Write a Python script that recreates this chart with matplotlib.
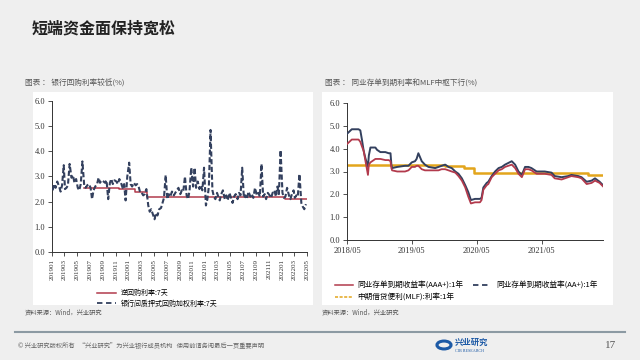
import numpy as np
import pandas as pd
import matplotlib
matplotlib.use("Agg")
import matplotlib.pyplot as plt
import matplotlib.dates as mdates
from matplotlib.lines import Line2D
from matplotlib.patches import Rectangle, Circle

plt.rcParams['font.family'] = ['Liberation Serif', 'Noto Sans CJK SC', 'DejaVu Sans']
CJK = ['Noto Sans CJK SC', 'DejaVu Sans']

# ---- left chart data: DR007 weekly readings (4 per month) ----
dr_months = pd.date_range('2019-01-01', '2022-04-01', freq='MS')
dr_days = [4, 11, 18, 26]
dr007 = [
    2.45, 2.70, 2.55, 2.80,  # 2019-01
    2.60, 2.40, 2.65, 3.45,
    2.50, 2.55, 2.65, 3.50,
    2.95, 3.05, 2.75, 2.90,
    2.55, 2.45, 2.70, 3.60,
    2.60, 2.55, 2.65, 2.70,
    2.55, 2.10, 2.45, 2.60,
    2.70, 2.95, 2.75, 2.85,
    2.80, 2.75, 2.85, 2.10,
    2.75, 2.90, 2.70, 2.85,
    2.80, 2.70, 2.90, 2.75,
    2.55, 2.70, 2.05, 3.00,
    3.55, 2.70, 2.60, 2.75,  # 2020-01
    2.65, 2.70, 2.60, 2.35,
    2.35, 2.25, 2.30, 2.50,
    1.85, 1.60, 1.70, 1.50,
    1.30, 1.55, 1.45, 1.70,
    1.75, 1.95, 2.15, 3.05,
    2.10, 2.30, 2.20, 2.40,
    2.25, 2.35, 2.45, 2.55,
    2.30, 2.45, 2.40, 3.00,
    2.25, 2.10, 2.45, 3.35,
    2.60, 3.35, 2.55, 2.80,
    2.50, 2.65, 2.45, 3.35,
    1.85, 2.10, 2.60, 4.85,  # 2021-01
    2.45, 2.20, 2.10, 2.35,
    2.20, 2.05, 2.30, 2.45,
    2.10, 2.25, 2.05, 2.35,
    2.15, 1.95, 2.20, 2.30,
    2.10, 2.35, 2.25, 3.35,
    2.15, 2.25, 2.10, 2.40,
    2.20, 2.30, 2.15, 2.55,
    2.25, 2.35, 2.20, 3.50,
    2.20, 2.30, 2.10, 2.35,
    2.25, 2.15, 2.35, 2.45,
    2.20, 2.60, 2.30, 4.05,
    2.35, 2.15, 2.20, 2.55,  # 2022-01
    2.25, 2.10, 2.30, 2.45,
    2.15, 2.25, 2.20, 3.10,
    1.95, 1.80, 1.70, 1.90,
]
dr_dates = [m + pd.Timedelta(days=d - 1) for m in dr_months for d in dr_days]

repo_dates = pd.to_datetime(['2019-06-01', '2019-11-18', '2020-02-03', '2020-03-30',
                             '2022-01-17', '2022-04-30'])
repo_rate = [2.55, 2.50, 2.40, 2.20, 2.10, 2.10]

# ---- right chart data: NCD 1Y yields and MLF ----
ncd_dates = pd.to_datetime([
    '2018-05-01', '2018-05-28', '2018-07-05', '2018-07-15', '2018-07-24', '2018-08-03',
    '2018-08-12', '2018-08-27', '2018-09-01', '2018-09-10', '2018-10-08', '2018-10-17',
    '2018-11-05', '2018-12-03', '2018-12-22', '2019-01-01', '2019-01-06', '2019-01-10',
    '2019-02-08', '2019-03-24', '2019-04-12', '2019-05-01', '2019-05-19', '2019-05-28',
    '2019-06-07', '2019-06-26', '2019-07-14', '2019-08-03', '2019-09-10', '2019-09-28',
    '2019-10-16', '2019-11-05', '2019-11-24', '2019-12-12', '2020-01-01', '2020-01-19',
    '2020-02-07', '2020-02-26', '2020-03-14', '2020-03-29', '2020-04-21', '2020-05-19',
    '2020-05-28', '2020-06-07', '2020-06-26', '2020-07-05', '2020-07-24', '2020-08-12',
    '2020-09-01', '2020-09-19', '2020-10-07', '2020-11-14', '2020-12-03', '2020-12-22',
    '2021-01-10', '2021-01-28', '2021-02-16', '2021-03-05', '2021-04-03', '2021-05-19',
    '2021-06-26', '2021-07-14', '2021-08-22', '2021-09-28', '2021-10-16', '2021-11-24',
    '2021-12-12', '2022-01-10', '2022-02-07', '2022-02-26', '2022-03-24', '2022-04-12',
])
ncd_aa = [
    4.65, 4.85, 4.85, 4.80, 4.40, 3.90,
    3.60, 3.20, 3.70, 4.05, 4.05, 3.95,
    3.85, 3.85, 3.80, 3.80, 3.30, 3.15,
    3.20, 3.25, 3.25, 3.40, 3.45, 3.55,
    3.80, 3.45, 3.30, 3.20, 3.15, 3.20,
    3.25, 3.30, 3.20, 3.15, 3.00, 2.90,
    2.70, 2.40, 2.10, 1.75, 1.80, 1.80,
    1.85, 2.30, 2.50, 2.55, 2.80, 3.00,
    3.15, 3.20, 3.30, 3.45, 3.30, 3.00,
    2.85, 3.20, 3.20, 3.15, 3.00, 3.00,
    2.95, 2.80, 2.75, 2.80, 2.85, 2.80,
    2.75, 2.55, 2.60, 2.70, 2.55, 2.40,
]
ncd_aaa = [
    4.20, 4.40, 4.40, 4.30, 4.10, 3.90,
    3.50, 2.85, 3.30, 3.40, 3.55, 3.55,
    3.55, 3.50, 3.50, 3.45, 3.15, 3.05,
    3.00, 3.00, 3.05, 3.20, 3.20, 3.25,
    3.25, 3.10, 3.05, 3.05, 3.05, 3.05,
    3.10, 3.10, 3.05, 3.00, 2.95, 2.80,
    2.60, 2.30, 1.90, 1.60, 1.65, 1.65,
    1.75, 2.20, 2.40, 2.45, 2.75, 2.90,
    3.05, 3.10, 3.20, 3.30, 3.15, 2.90,
    2.75, 3.10, 3.10, 3.05, 2.90, 2.90,
    2.85, 2.70, 2.65, 2.75, 2.80, 2.75,
    2.70, 2.45, 2.50, 2.60, 2.50, 2.35,
]
mlf_dates = pd.to_datetime(['2018-05-01', '2019-11-05', '2020-02-17', '2020-04-15',
                            '2022-01-17', '2022-04-12'])
mlf_rate = [3.30, 3.25, 3.15, 2.95, 2.85, 2.85]

c_red = '#b23a4c'
c_navy = '#33405e'
c_gold = '#e3a51c'
bg = '#efefef'

fig = plt.figure(figsize=(6.4, 3.6), dpi=100)
fig.patch.set_facecolor(bg)

# white panels
fig.add_artist(Rectangle((33 / 640, 1 - 305 / 360), 280 / 640, 213 / 360,
                         transform=fig.transFigure, facecolor='white', edgecolor='none', zorder=0))
fig.add_artist(Rectangle((322 / 640, 1 - 305 / 360), 291 / 640, 213 / 360,
                         transform=fig.transFigure, facecolor='white', edgecolor='none', zorder=0))

fig.text(32 / 640, 1 - 28 / 360, '短端资金面保持宽松', family=CJK, fontsize=11.5,
         fontweight='bold', color='#222222', va='center')

fig.text(25 / 640, 1 - 83 / 360, '图表 ： 银行回购利率较低(%)', family=CJK, fontsize=5.5,
         color='#555555', va='center')
fig.text(325 / 640, 1 - 83 / 360, '图表 ： 同业存单到期利率和MLF中枢下行(%)', family=CJK,
         fontsize=5.5, color='#555555', va='center')

# ---- left axes ----
ax1 = fig.add_axes([52 / 640, 1 - 252 / 360, 255 / 640, 151 / 360])
ax1.plot(repo_dates, repo_rate, color=c_red, lw=1.1, drawstyle='steps-post', zorder=2)
ax1.plot(dr_dates, dr007, color=c_navy, lw=1.5, dashes=(2.5, 1.2), zorder=3)
ax1.set_xlim(pd.Timestamp('2019-01-01'), pd.Timestamp('2022-05-01'))
ax1.set_ylim(0, 6)
ax1.set_yticks(np.arange(0, 6.1, 1.0))
ax1.yaxis.set_major_formatter(plt.FormatStrFormatter('%.1f'))
ax1.set_xticks(pd.date_range('2019-01-01', '2022-05-01', freq='2MS'))
ax1.xaxis.set_major_formatter(mdates.DateFormatter('%Y%m'))
plt.setp(ax1.get_xticklabels(), rotation=90)
ax1.tick_params(axis='x', labelsize=5, length=3, width=0.6, pad=2)
ax1.tick_params(axis='y', labelsize=6, length=3, width=0.6, pad=2)

# ---- right axes ----
ax2 = fig.add_axes([347 / 640, 1 - 240 / 360, 256 / 640, 137 / 360])
ax2.plot(mlf_dates, mlf_rate, color=c_gold, lw=1.8, drawstyle='steps-post', zorder=2)
ax2.plot(ncd_dates, ncd_aa, color=c_navy, lw=1.4, zorder=3)
ax2.plot(ncd_dates, ncd_aaa, color=c_red, lw=1.3, zorder=4)
ax2.set_xlim(pd.Timestamp('2018-05-01'), pd.Timestamp('2022-04-12'))
ax2.set_ylim(0, 6)
ax2.set_yticks(np.arange(0, 6.1, 1.0))
ax2.yaxis.set_major_formatter(plt.FormatStrFormatter('%.1f'))
ax2.set_xticks(pd.to_datetime(['2018-05-01', '2019-05-01', '2020-05-01', '2021-05-01']))
ax2.xaxis.set_major_formatter(mdates.DateFormatter('%Y/%m'))
ax2.tick_params(axis='x', labelsize=6, length=3, width=0.6, pad=2)
ax2.tick_params(axis='y', labelsize=6, length=3, width=0.6, pad=2)

for ax in (ax1, ax2):
    ax.set_facecolor('white')
    for s in ('top', 'right'):
        ax.spines[s].set_visible(False)
    for s in ('left', 'bottom'):
        ax.spines[s].set_linewidth(0.7)
        ax.spines[s].set_color('#333333')
    ax.tick_params(colors='#333333')

# legends
h_repo = Line2D([], [], color=c_red, lw=1.1)
h_dr = Line2D([], [], color=c_navy, lw=1.3, dashes=(3, 2))
fig.legend([h_repo, h_dr], ['逆回购利率:7天', '银行间质押式回购加权利率:7天'],
           loc='upper left', bbox_to_anchor=(94 / 640, 1 - 286 / 360),
           frameon=False, prop={'family': CJK, 'size': 5}, handlelength=2.6,
           labelspacing=0.35, handletextpad=0.8, borderpad=0)

h_aaa = Line2D([], [], color=c_red, lw=1.1)
h_aa = Line2D([], [], color=c_navy, lw=1.3, dashes=(3, 2))
h_mlf = Line2D([], [], color=c_gold, lw=1.1, dashes=(2, 1))
fig.legend([h_aaa, h_mlf, h_aa],
           ['同业存单到期收益率(AAA+):1年', '中期借贷便利(MLF):利率:1年', '同业存单到期收益率(AA+):1年'],
           loc='upper left', bbox_to_anchor=(331 / 640, 1 - 278 / 360), ncol=2,
           frameon=False, prop={'family': CJK, 'size': 5.5}, handlelength=2.4,
           labelspacing=0.5, handletextpad=0.6, columnspacing=1.2, borderpad=0)

fig.text(25 / 640, 1 - 313 / 360, '资料来源：Wind，兴业研究', family=CJK, fontsize=4.5,
         color='#555555', va='center')
fig.text(322 / 640, 1 - 313 / 360, '资料来源：Wind，兴业研究', family=CJK, fontsize=4.5,
         color='#555555', va='center')

# footer
fig.add_artist(Line2D([15 / 640, 625 / 640], [1 - 332 / 360, 1 - 332 / 360],
                      transform=fig.transFigure, color='#8c9aa3', lw=1.5))
fig.text(18 / 640, 1 - 346 / 360,
         '© 兴业研究版权所有   “兴业研究”为兴业银行成员机构   使用前请务阅最后一页重要声明',
         family=CJK, fontsize=4.5, color='#666666', va='center')
fig.add_artist(Circle((444 / 640, 1 - 345 / 360), 0.011, transform=fig.transFigure,
                      facecolor='none', edgecolor='#1d5aa6', lw=2.2))
fig.text(455 / 640, 1 - 342 / 360, '兴业研究', family=CJK, fontsize=6, fontweight='bold',
         color='#1d5aa6', va='center')
fig.text(455 / 640, 1 - 351 / 360, 'CIB RESEARCH', fontsize=3, color='#1d5aa6', va='center')
fig.text(605 / 640, 1 - 346 / 360, '17', fontsize=8, color='#555555', va='center')

fig.savefig('out.png', dpi=100, facecolor=bg)
